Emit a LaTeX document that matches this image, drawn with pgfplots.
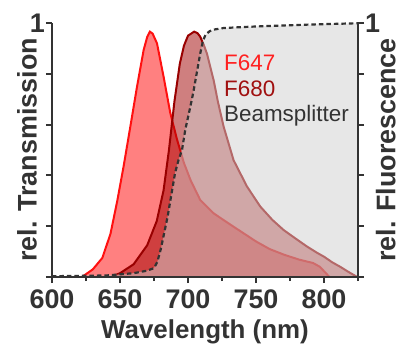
\documentclass[border=0pt]{standalone}
\usepackage{pgfplots}
\pgfplotsset{compat=1.18}
\usepackage{pgfplotstable}
\usepackage{fontspec}
\setmainfont{Liberation Sans}
\definecolor{axgray}{HTML}{333333}
\definecolor{fsevenline}{HTML}{FF1010}
\definecolor{fsevenfill}{HTML}{FF8080}
\definecolor{feightline}{HTML}{990000}
\definecolor{feightfill}{HTML}{A00000}
\definecolor{bsfill}{HTML}{D0D0D0}
\definecolor{fsevtext}{HTML}{FF2020}
\definecolor{feitext}{HTML}{A01010}

\pgfplotstableread{
x y
622 0
630 0.03
637 0.075
643 0.17
648 0.30
652.6 0.434
657.6 0.592
662.5 0.749
667.4 0.894
670 0.945
672 0.966
674 0.958
677.2 0.92
682 0.79
687 0.645
692 0.54
697 0.449
702 0.38
709 0.303
719 0.25
733.5 0.198
750 0.14
760 0.11
771 0.087
782 0.068
792 0.055
797 0.04
804 0
}\fseven

\pgfplotstableread{
x y
643 0
650 0.015
660 0.05
670 0.125
677 0.22
682 0.34
686 0.50
690 0.69
694 0.84
697 0.91
700 0.95
704.5 0.966
707 0.96
709 0.946
711.5 0.915
713.9 0.88
718.8 0.776
722 0.69
726.2 0.592
733.5 0.46
743.4 0.356
753.2 0.277
762 0.225
770.3 0.185
780 0.148
787.5 0.12
795 0.095
800 0.08
806 0.058
812 0.04
818 0.02
824.5 0
}\feight

\pgfplotstableread{
x y
600 0.003
640 0.006
660 0.015
670 0.025
675 0.035
677.5 0.06
680 0.11
685 0.237
690.5 0.41
693 0.46
695.6 0.5
698 0.58
701.7 0.67
704 0.73
707 0.82
709 0.88
711 0.93
713 0.955
716 0.968
720 0.975
726 0.98
740 0.984
758 0.988
790 0.994
825 0.999
}\beam

\begin{document}
\begin{tikzpicture}
\begin{axis}[
  scale only axis, width=306bp, height=254bp,
  xmin=600, xmax=825, ymin=0, ymax=1,
  axis x line=bottom, axis y line=left,
  axis line style={-, line width=2bp, color=axgray},
  axis on top,
  xtick={600,650,700,750,800},
  minor xtick={625,675,725,775,825},
  ytick={0,0.2,0.4,0.6,0.8,1},
  yticklabels={,,,,,1},
  tick align=outside,
  major tick length=6bp, minor tick length=4bp,
  every tick/.style={line width=2bp, color=axgray},
  /pgf/number format/assume math mode=true,
  /pgf/number format/1000 sep={},
  ticklabel style={font=\bfseries\fontsize{27}{30}\selectfont, color=axgray, inner sep=0pt},
  xticklabel style={anchor=north, yshift=-7bp},
  yticklabel style={anchor=east, xshift=-1bp},
  xlabel={Wavelength (nm)},
  ylabel={rel. Transmission},
  label style={font=\bfseries\fontsize{27}{30}\selectfont, color=axgray, inner sep=0pt},
  xlabel style={at={(axis description cs:0.5,-0.169)}, anchor=north, font=\bfseries\fontsize{26}{28}\selectfont},
  ylabel style={at={(axis description cs:-0.1144,0.5)}, anchor=north, rotate=0},
  clip=false,
]
\coordinate (sw) at (rel axis cs:0,0);
\coordinate (ne) at (rel axis cs:1,1);
\addplot[draw=none, fill=fsevenfill] table[x=x,y=y]{\fseven} \closedcycle;
\addplot[draw=fsevenline, line width=2bp] table[x=x,y=y]{\fseven};
\addplot[draw=none, fill=feightfill, fill opacity=0.5] table[x=x,y=y]{\feight} \closedcycle;
\addplot[draw=feightline, line width=2bp] table[x=x,y=y]{\feight};
\addplot[draw=none, fill=bsfill, fill opacity=0.5] table[x=x,y=y]{\beam} \closedcycle;
\addplot[draw=axgray, line width=2.2bp, dash pattern=on 4.5bp off 3bp] table[x=x,y=y]{\beam};
\node[anchor=north west, inner sep=0pt, align=left, font=\fontsize{22.5}{25.5}\selectfont] at (rel axis cs:0.562,0.875)
  {\textcolor{fsevtext}{F647}\\\textcolor{feitext}{F680}\\\textcolor{axgray}{Beamsplitter}};
\end{axis}
\begin{axis}[
  scale only axis, width=306bp, height=254bp,
  xmin=600, xmax=825, ymin=0, ymax=1,
  axis x line=none, axis y line=right,
  axis line style={-, line width=2bp, color=axgray},
  ytick={0,0.2,0.4,0.6,0.8,1},
  yticklabels={,,,,,1},
  tick align=outside,
  major tick length=6bp,
  every tick/.style={line width=2bp, color=axgray},
  /pgf/number format/assume math mode=true,
  ticklabel style={font=\bfseries\fontsize{27}{30}\selectfont, color=axgray, inner sep=0pt},
  yticklabel style={anchor=west, xshift=1bp},
  ylabel={rel. Fluorescence},
  label style={font=\bfseries\fontsize{27}{30}\selectfont, color=axgray, inner sep=0pt},
  ylabel style={at={(axis description cs:1.058,0.5)}, anchor=north, rotate=0},
]
\end{axis}
\pgfresetboundingbox
\path[use as bounding box] ([shift={(-52bp,-68bp)}]sw) rectangle ([shift={(43bp,23bp)}]ne);
\end{tikzpicture}
\end{document}
